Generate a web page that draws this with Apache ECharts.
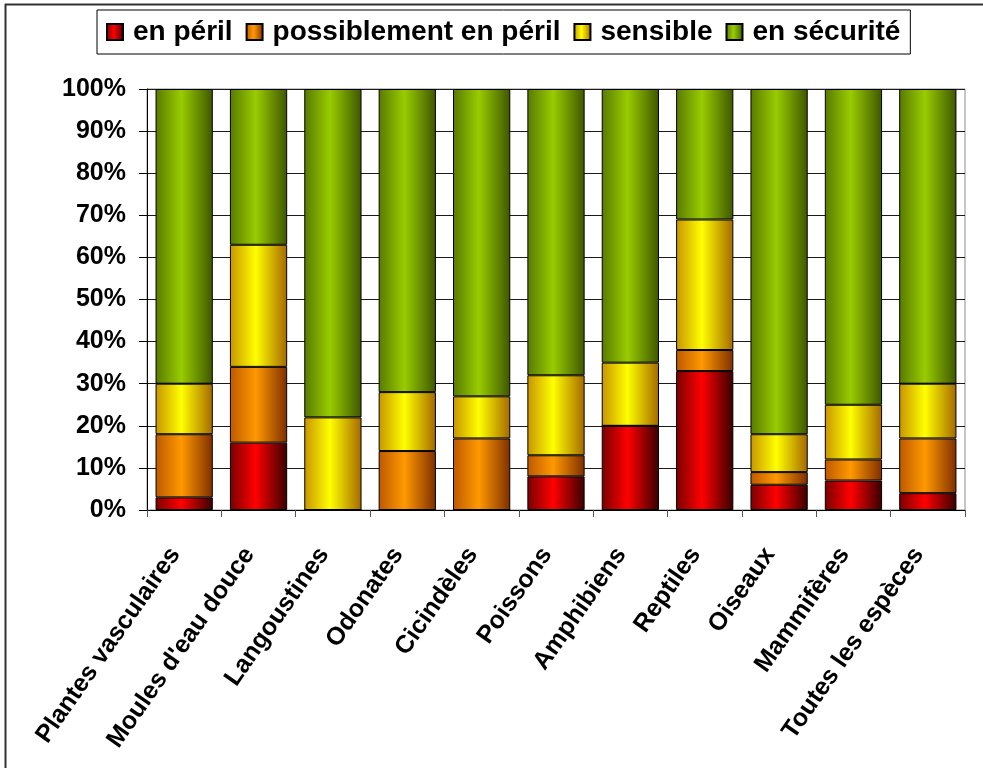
<!DOCTYPE html>
<html>
<head>
<meta charset="utf-8">
<script src="https://cdn.jsdelivr.net/npm/echarts@6/dist/echarts.min.js"></script>
<style>
  html, body { margin: 0; padding: 0; background: #fff; }
  #chart { width: 983px; height: 768px; }
</style>
</head>
<body>
<div id="chart"></div>
<script>
// Statut des espèces par groupe (% des espèces évaluées)
const categories = [
  'Plantes vasculaires', "Moules d'eau douce", 'Langoustines', 'Odonates',
  'Cicindèles', 'Poissons', 'Amphibiens', 'Reptiles', 'Oiseaux',
  'Mammifères', 'Toutes les espèces'
];
const seriesNames = ['en péril', 'possiblement en péril', 'sensible', 'en sécurité'];
const enPeril       = [3, 16, 0, 0, 0, 8, 20, 33, 6, 7, 4];
const possiblement  = [15, 18, 0, 14, 17, 5, 0, 5, 3, 5, 13];
const sensible      = [12, 29, 22, 14, 10, 19, 15, 31, 9, 13, 13];
const enSecurite    = [70, 37, 78, 72, 73, 68, 65, 31, 82, 75, 70];
const yTicks = [0, 10, 20, 30, 40, 50, 60, 70, 80, 90, 100];

const FONT = '"Liberation Sans", Arial, sans-serif';

function shade(left, mid, right) {
  return {
    type: 'linear', x: 0, y: 0, x2: 1, y2: 0,
    colorStops: [
      { offset: 0, color: left },
      { offset: 0.45, color: mid },
      { offset: 1, color: right }
    ]
  };
}

const fills = [
  shade('#7a0000', '#ff0000', '#380000'),
  shade('#bd5800', '#ff9900', '#7e2e00'),
  shade('#c89400', '#ffff00', '#a56800'),
  shade('#587a00', '#99cc00', '#3e5600')
];
const values = [enPeril, possiblement, sensible, enSecurite];

const chart = echarts.init(document.getElementById('chart'), null, { renderer: 'canvas' });

chart.setOption({
  animation: false,
  backgroundColor: '#fff',
  textStyle: { fontFamily: FONT },
  legend: {
    left: 97, top: 10,
    padding: [8, 10, 8, 9],
    borderColor: '#000', borderWidth: 1,
    itemWidth: 16, itemHeight: 16, itemGap: 13,
    icon: 'rect',
    textStyle: { fontFamily: FONT, fontSize: 28, fontWeight: 'bold', color: '#000', padding: [0, 0, 0, 5] },
    data: seriesNames
  },
  grid: {
    left: 147, right: 18, top: 89, bottom: 258,
    show: true, borderColor: '#8c8c8c', borderWidth: 1,
    containLabel: false
  },
  xAxis: {
    type: 'category',
    data: categories,
    axisLine: { lineStyle: { color: '#000', width: 1 } },
    axisTick: { show: true, length: 7, lineStyle: { color: '#555' } },
    axisLabel: {
      rotate: 55, margin: 27, interval: 0, padding: [0, 16, 0, 0],
      fontFamily: FONT, fontSize: 25, fontWeight: 'bold', color: '#000'
    }
  },
  yAxis: {
    type: 'value',
    min: yTicks[0], max: yTicks[yTicks.length - 1], interval: 10,
    axisLine: { show: true, lineStyle: { color: '#000', width: 1 } },
    axisTick: { show: true, length: 8, lineStyle: { color: '#000' } },
    splitLine: { show: true, lineStyle: { color: '#1a1a1a', width: 1 } },
    axisLabel: {
      margin: 21, formatter: '{value}%',
      fontFamily: FONT, fontSize: 25, fontWeight: 'bold', color: '#000'
    }
  },
  series: seriesNames.map((name, i) => ({
    name,
    type: 'bar',
    stack: 'total',
    barWidth: '77%',
    data: values[i],
    itemStyle: { color: fills[i], borderColor: '#000', borderWidth: 1 }
  })),
  graphic: [
    { type: 'line', shape: { x1: 5.5, y1: 4, x2: 5.5, y2: 768 }, style: { stroke: '#333', lineWidth: 2 } },
    { type: 'line', shape: { x1: 5, y1: 4.5, x2: 983, y2: 4.5 }, style: { stroke: '#333', lineWidth: 2 } }
  ]
});
</script>
</body>
</html>
